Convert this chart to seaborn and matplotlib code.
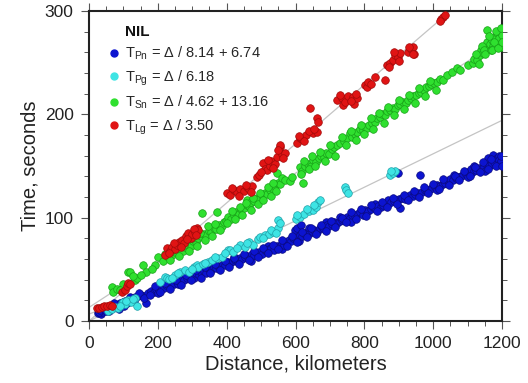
import matplotlib
matplotlib.use("Agg")
import matplotlib.pyplot as plt
from matplotlib.ticker import MultipleLocator
from matplotlib.lines import Line2D
import numpy as np
import pandas as pd
import seaborn as sns

# ---- data (distance km, time s) ----
pn_dist = [26, 30, 35, 38, 45, 52, 60, 68, 75, 82, 90, 98, 105, 110, 112, 120, 128, 135, 142, 150, 158, 166,
           172, 180, 188, 195, 200, 202, 210, 218, 225, 232, 240, 248, 255, 260, 262, 270, 276, 284, 290, 298,
           305, 312, 320, 326, 333, 340, 348, 350, 355, 362, 368, 375, 382, 390, 396, 403, 410, 418, 420, 425,
           432, 440, 446, 453, 460, 467, 470, 474, 480, 488, 495, 502, 510, 516, 520, 524, 530, 538, 545, 552,
           560, 560, 566, 573, 580, 587, 594, 598, 600, 605, 607, 610, 614, 615, 620, 628, 634, 640, 641, 648,
           655, 662, 670, 677, 684, 690, 692, 698, 706, 713, 720, 728, 730, 735, 742, 750, 757, 760, 765, 772,
           780, 788, 795, 802, 810, 818, 825, 830, 832, 840, 848, 855, 862, 870, 870, 878, 885, 893, 898, 900,
           904, 910, 918, 925, 932, 940, 948, 955, 962, 968, 975, 982, 990, 997, 1005, 1010, 1012, 1020, 1028,
           1035, 1042, 1050, 1058, 1060, 1065, 1072, 1080, 1088, 1095, 1100, 1102, 1110, 1110, 1118, 1120, 1125,
           1132, 1140, 1148, 1150, 1155, 1160, 1162, 1170, 1175, 1178, 1185, 1190, 1192, 1195, 1198,
           28, 33, 40, 48, 58, 64, 72, 88, 102, 118, 132, 146, 160, 176, 192, 206, 222, 236, 252, 268, 282,
           296, 310, 324, 338, 352, 366, 380, 394, 408, 422, 436, 450, 464, 478, 492, 506, 520, 534, 548, 562,
           576, 590, 604, 618, 632, 646, 660, 674, 688, 702, 716, 734, 748, 762, 776, 790, 806, 820, 836, 850,
           866, 884, 896, 914, 928, 944, 958, 972, 986, 1000, 1016, 1030, 1046, 1062, 1076, 1090, 1106, 1122,
           1136, 1146, 1158, 1168, 1182, 1196, 1200]
pn_time = [8, 10, 7, 9, 12, 11, 13, 14, 15, 14, 17, 18, 19, 17, 20, 21, 20, 23, 24, 25, 24, 17,
           27, 29, 28, 31, 27, 30, 33, 32, 35, 34, 37, 36, 38, 36, 39, 41, 40, 42, 43, 44,
           42, 46, 45, 47, 48, 46, 50, 53, 49, 52, 51, 53, 52, 55, 54, 57, 56, 58, 62, 59,
           57, 61, 60, 62, 63, 61, 58, 65, 64, 66, 67, 65, 69, 68, 73, 70, 71, 69, 73, 72,
           75, 70, 74, 76, 78, 77, 80, 88, 79, 90, 81, 77, 83, 93, 82, 84, 86, 90, 85, 87,
           88, 86, 90, 91, 89, 96, 93, 92, 94, 96, 95, 97, 101, 98, 99, 101, 100, 96, 103, 102,
           104, 105, 103, 107, 106, 108, 110, 113, 109, 111, 110, 112, 114, 113, 117, 115, 116, 117, 143, 118,
           109, 119, 118, 120, 122, 121, 123, 124, 141, 125, 127, 126, 128, 129, 130, 127, 132, 131, 133,
           134, 135, 137, 136, 141, 138, 139, 140, 141, 142, 139, 144, 143, 147, 145, 150, 146,
           148, 147, 149, 145, 151, 158, 150, 152, 161, 154, 158, 160, 156, 152, 155,
           9, 11, 13, 10, 10, 12, 17, 12, 15, 23, 19, 27, 22, 25, 34, 28, 37, 31, 40, 35, 45,
           40, 49, 42, 52, 46, 55, 49, 58, 52, 61, 55, 65, 59, 68, 62, 71, 66, 74, 70, 78,
           73, 82, 76, 86, 81, 90, 84, 93, 87, 97, 91, 100, 96, 105, 99, 108, 102, 112, 106, 115,
           110, 119, 113, 122, 117, 126, 120, 130, 124, 133, 128, 137, 132, 140, 136, 145, 140, 149,
           144, 154, 147, 157, 150, 160, 150]

pg_dist = [55, 61, 68, 76, 85, 96, 99, 105, 113, 122, 134, 140, 205, 221, 227, 232, 250, 265, 279, 290, 305,
           314, 317, 330, 345, 358, 372, 387, 404, 410, 418, 439, 452, 466, 477, 490, 497, 510, 522, 535, 548,
           549, 555, 600, 613, 625, 640, 651, 660, 666, 671, 744, 748, 753, 875, 882, 890,
           90, 108, 128, 240, 258, 298, 338, 365, 395, 430, 460, 505, 528, 542, 605, 632, 655, 878]
pg_time = [10, 13.5, 12, 14, 13, 17, 18, 16, 20, 18, 22, 15, 38, 43, 41.5, 41, 45, 47, 49, 47, 52,
           54, 52, 55, 57, 59, 61, 62, 69, 69, 67, 74, 72, 76, 74, 79, 81, 83, 84, 86, 90,
           98, 95, 99, 101, 104, 106, 107, 110, 115, 117, 130, 127, 124, 141, 143, 145,
           15, 19, 21, 42, 46, 50, 56, 62, 66, 71, 75, 80, 88, 85, 103, 108, 112, 145]

sn_dist = [67, 70, 80, 100, 113, 119, 135, 140, 157, 165, 192, 200, 215, 230, 241, 250, 258, 265, 272, 280,
           288, 295, 303, 310, 318, 325, 328, 333, 340, 348, 355, 362, 370, 372, 378, 385, 392, 398, 405, 412,
           420, 428, 435, 442, 450, 458, 459, 465, 472, 480, 487, 495, 502, 510, 517, 525, 532, 540, 546, 548,
           555, 562, 570, 584, 590, 613, 620, 622, 628, 636, 645, 652, 660, 667, 675, 682, 690, 698, 705, 712,
           720, 730, 740, 750, 757, 765, 772, 780, 788, 795, 802, 808, 815, 822, 830, 837, 845, 852, 860, 867,
           875, 882, 890, 897, 905, 912, 920, 928, 935, 942, 950, 958, 965, 972, 980, 988, 995, 1003, 1012,
           1020, 1029, 1040, 1055, 1069, 1078, 1100, 1116, 1120, 1128, 1135, 1140, 1145, 1150, 1155, 1157,
           1160, 1165, 1170, 1175, 1180, 1185, 1186, 1190, 1192, 1195, 1198, 1200,
           90, 128, 150, 182, 220, 236, 246, 262, 276, 292, 300, 314, 322, 338, 345, 358, 366, 382, 402, 416,
           425, 438, 446, 456, 470, 476, 490, 498, 506, 520, 528, 536, 544, 615, 625, 638, 648, 656, 672, 686,
           700, 716, 734, 746, 762, 776, 790, 800, 818, 826, 842, 856, 870, 886, 900, 915, 930, 946, 960, 976,
           992, 1008, 1125, 1132, 1142, 1148, 1152, 1162, 1168, 1172, 1178, 1182, 1188, 1196, 1200]
sn_time = [33, 28, 31, 36, 47, 47, 40, 42, 54, 47, 54, 62, 58, 62, 64, 67, 66, 70, 68, 72,
           74, 73, 77, 76, 80, 82, 104.5, 84, 83, 87, 86, 90, 89, 105, 93, 92, 96, 97, 101, 99,
           103, 105, 104, 108, 109, 112, 117, 111, 115, 116, 119, 118, 122, 124, 123, 127, 129, 131, 143, 134,
           133, 138, 136, 135, 139, 149, 145, 133.6, 150, 152, 150, 156, 154, 158, 160, 159, 163, 162, 166, 168,
           170, 172, 174, 177, 182, 178, 181, 183, 186, 185, 188, 187, 190, 192, 193, 196, 197, 200, 199, 203,
           204, 206, 205, 209, 210, 212, 211, 214, 216, 218, 219, 221, 222, 224, 226, 227, 229, 230, 231,
           234, 233, 238, 241, 245, 243, 248, 250, 254, 253, 257, 262, 259, 265, 270, 282,
           263, 268, 272, 266, 275, 270, 279, 274, 281, 268, 265, 277,
           30, 44, 45, 50, 65, 59, 70, 63, 74, 68, 80, 73, 85, 78, 92, 82, 94, 88, 95, 106,
           99, 110, 103, 114, 107, 119, 113, 124, 117, 130, 121, 134, 126, 142, 155, 147, 160, 150, 164, 155,
           170, 160, 178, 170, 184, 175, 190, 181, 196, 186, 201, 192, 207, 199, 214, 205, 219, 211, 225, 218,
           232, 224, 258, 249, 266, 262, 258, 276, 262, 262, 270, 281, 264, 284, 270]

lg_dist = [23, 30, 38, 45, 52, 61, 68, 96, 104, 110, 113, 119, 221, 227, 235, 242, 250, 256, 262, 270, 276,
           282, 288, 295, 300, 308, 314, 317, 401, 410, 420, 430, 440, 450, 459, 465, 475, 488, 495, 506, 512,
           517, 525, 530, 540, 546, 555, 556, 560, 570, 605, 613, 620, 630, 642, 650, 663, 663, 665, 721, 735,
           738, 745, 752, 767, 770, 779, 802, 808, 812, 831, 860, 866, 875, 882, 890, 897, 904, 927, 935, 942,
           945, 1024, 1029, 1034,
           232, 246, 266, 285, 304, 310, 415, 435, 455, 470, 500, 520, 535, 550, 565, 610, 625, 640, 655,
           730, 760, 775, 820, 872, 886, 900, 930, 940, 1020]
lg_time = [12.6, 13, 14, 14.5, 15, 15.5, 15, 28, 30, 34, 37, 36, 64, 70.7, 68, 72, 70, 73.6, 76, 78, 75,
           82, 85, 80, 84, 86, 90, 88, 124, 122, 127, 125, 128, 126, 130, 128, 131, 139, 141, 153, 147,
           146, 150, 155, 152, 159, 168.5, 170, 162, 163, 172, 177, 176, 180, 206, 182, 183, 196.5, 193, 214, 216,
           209, 212, 218, 217, 210, 216, 228, 226.5, 231, 236, 233, 248, 250, 253, 257.5, 255, 259, 260, 263, 265,
           258, 292, 294, 296,
           66, 75, 72, 79, 89, 83, 129, 121, 132, 125, 144, 156, 148, 165, 158, 179, 174, 184, 186,
           219, 213, 220, 229, 246, 260, 252, 265, 258, 290]

phases = ["Pn", "Pg", "Sn", "Lg"]
velocities = [8.14, 6.18, 4.62, 3.50]
intercepts = [6.74, 0.0, 13.16, 0.0]
labels = [r"T$_{\mathregular{Pn}}$ = Δ / 8.14 + 6.74",
          r"T$_{\mathregular{Pg}}$ = Δ / 6.18",
          r"T$_{\mathregular{Sn}}$ = Δ / 4.62 + 13.16",
          r"T$_{\mathregular{Lg}}$ = Δ / 3.50"]
station = "NIL"

face = {"Pn": "#0c14d0", "Pg": "#3ee4e4", "Sn": "#2fe02f", "Lg": "#e01414"}
edge = {"Pn": "#0a0a80", "Pg": "#20a0a8", "Sn": "#18a018", "Lg": "#a00a0a"}

df = pd.concat([
    pd.DataFrame({"dist": pn_dist, "time": pn_time, "phase": "Pn"}),
    pd.DataFrame({"dist": pg_dist, "time": pg_time, "phase": "Pg"}),
    pd.DataFrame({"dist": sn_dist, "time": sn_time, "phase": "Sn"}),
    pd.DataFrame({"dist": lg_dist, "time": lg_time, "phase": "Lg"}),
], ignore_index=True)

sns.set_theme(style="ticks")
plt.rcParams["font.family"] = ["Liberation Sans", "DejaVu Sans"]
plt.rcParams["mathtext.default"] = "regular"

fig = plt.figure(figsize=(5.28, 3.83), dpi=100)
ax = fig.add_axes([89 / 528, 1 - 321 / 383, 413 / 528, 310 / 383])

# model lines
xx = np.array([0.0, 1200.0])
for v, c in zip(velocities, intercepts):
    ax.plot(xx, xx / v + c, color="#c4c4c4", lw=0.9, zorder=1)

for ph in phases:
    sub = df[df["phase"] == ph]
    sns.scatterplot(data=sub, x="dist", y="time", ax=ax, s=30, color=face[ph],
                    edgecolor=edge[ph], linewidth=0.5, zorder=3, legend=False)

ax.set_xlim(0, 1200)
ax.set_ylim(0, 300)
ax.xaxis.set_major_locator(MultipleLocator(200))
ax.xaxis.set_minor_locator(MultipleLocator(50))
ax.yaxis.set_major_locator(MultipleLocator(100))
ax.yaxis.set_minor_locator(MultipleLocator(20))
ax.tick_params(which="both", direction="out", top=True, right=True, color="#555555",
               labelsize=12.5, labelcolor="#222222")
ax.tick_params(which="major", length=6, width=0.8, pad=5)
ax.tick_params(which="minor", length=3.5, width=0.7)
for sp in ax.spines.values():
    sp.set_linewidth(1.5)
    sp.set_color("#222222")

ax.set_xlabel("Distance, kilometers", fontsize=14.5, color="#222222", labelpad=2)
ax.set_ylabel("Time, seconds", fontsize=14.5, color="#222222", labelpad=4)

handles = [Line2D([], [], ls="none", marker="o", markersize=5, markerfacecolor=face[p],
                  markeredgecolor=face[p]) for p in phases]
leg = ax.legend(handles, labels, loc="upper left", bbox_to_anchor=(0.035, 0.91), frameon=False,
                fontsize=10.5, handlelength=0.6, handletextpad=0.5, labelspacing=0.42,
                borderaxespad=0.0)
ax.text(0.088, 0.955, station, transform=ax.transAxes, fontsize=11, fontweight="bold",
        va="top", ha="left", color="#111111")

fig.savefig("out.png", dpi=100)
